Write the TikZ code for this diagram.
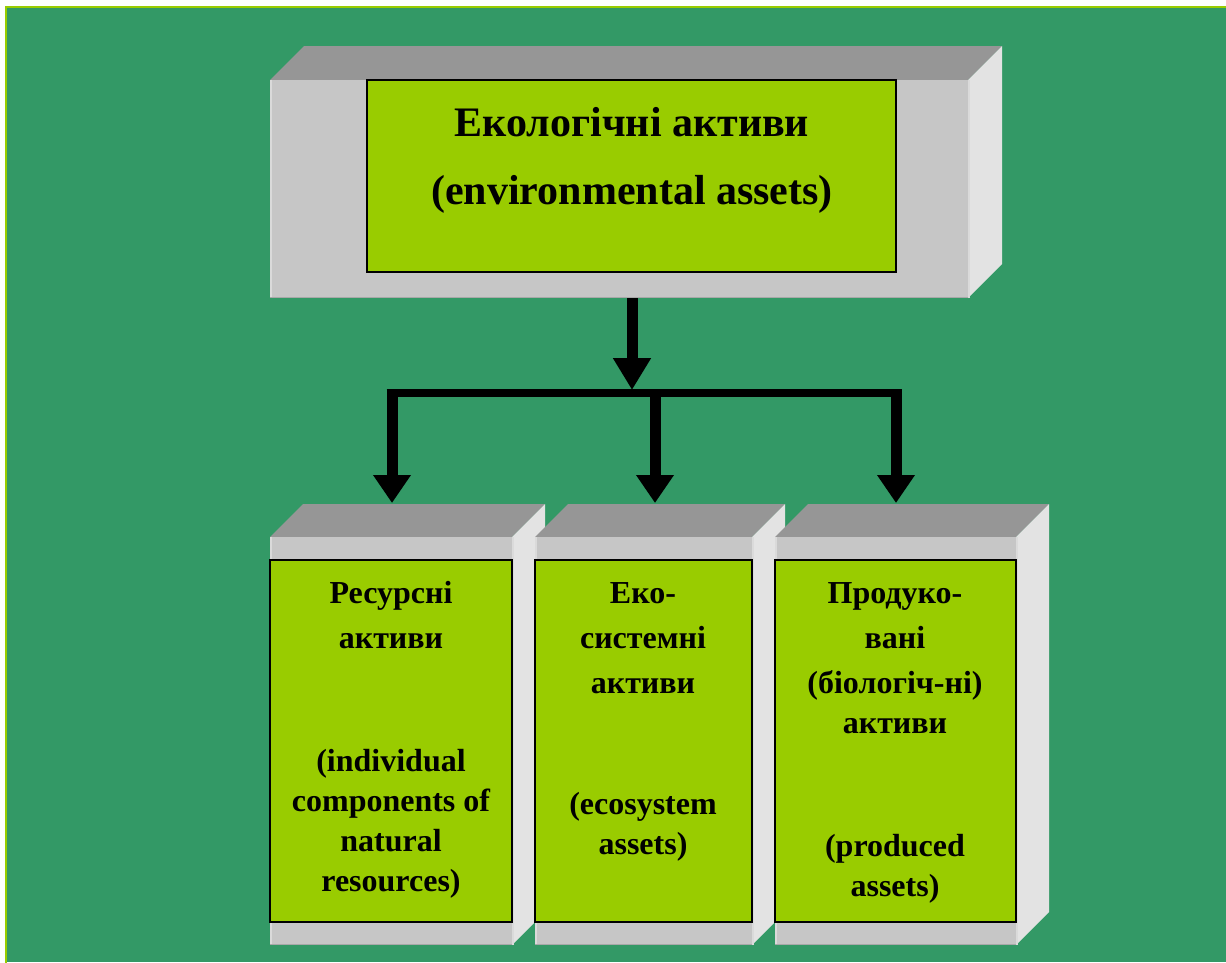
\documentclass[tikz,border=0pt]{standalone}
\usepackage{fontspec}
\setmainfont{Liberation Serif}
\usetikzlibrary{arrows.meta}
\definecolor{bg}{HTML}{339966}
\definecolor{lime}{HTML}{99CC00}
\definecolor{gtop}{HTML}{969696}
\definecolor{gfront}{HTML}{C6C6C6}
\definecolor{gside}{HTML}{E3E3E3}
\definecolor{gedge}{HTML}{A8A8A8}
\definecolor{glight}{HTML}{DADADA}
\newcommand\slabfaces[5]{%
  \fill[gtop] (#1,#2) -- (#1+#5,#2-#5) -- (#3+#5,#2-#5) -- (#3,#2) -- cycle;
  \fill[gside] (#3,#2) -- (#3+#5,#2-#5) -- (#3+#5,#4-#5) -- (#3,#4) -- cycle;
  \draw[glight,line width=1.5] (#3+0.75,#2) -- (#3+0.75,#4);
}
\begin{document}
\begin{tikzpicture}[x=1pt,y=-1pt,
  front/.style={fill=gfront, inner sep=0pt, outer sep=0pt, anchor=north west},
  lbox/.style={draw=black, line width=1.3pt, fill=lime, inner sep=0pt, outer sep=0pt, anchor=north west},
  bigtxt/.style={font=\fontsize{42}{50}\selectfont\bfseries, anchor=base, inner sep=0pt},
  txt/.style={font=\fontsize{32}{40}\selectfont\bfseries, anchor=base, inner sep=0pt},
  stem/.style={line width=11pt, -{Triangle[width=36pt,length=28pt]}},
]
\useasboundingbox (0,0) rectangle (1226,962);
\fill[white] (0,0) rectangle (1226,962);
\fill[bg] (6,7) rectangle (1226,962);
\draw[lime, line width=2pt] (6,970) -- (6,7) -- (1230,7);

% top box
\slabfaces{270}{80}{968}{298}{34}
\node[front, minimum width=698pt, minimum height=218pt] (topbox) at (270,80) {};
\draw[glight,line width=1.5] (270.75,80) -- (270.75,298);
\draw[gedge,line width=1.5] (270,297.25) -- (968,297.25);
\node[lbox, minimum width=529pt, minimum height=192pt] (top) at (367,80) {};
\node[bigtxt] (t1) at (632,136) {Екологічні активи};
\node[bigtxt] (t2) at (632,204) {(environmental assets)};

% bottom box 1
\slabfaces{270}{537}{512}{945}{33}
\node[front, minimum width=242pt, minimum height=408pt] (box1) at (270,537) {};
\draw[glight,line width=1.5] (270.75,537) -- (270.75,945);
\draw[gedge,line width=1.5] (270,944.25) -- (512,944.25);
\node[lbox, minimum width=242pt, minimum height=362pt] (g1) at (270,560) {};
% bottom box 2
\slabfaces{535}{537}{752}{945}{33}
\node[front, minimum width=217pt, minimum height=408pt] (box2) at (535,537) {};
\draw[glight,line width=1.5] (535.75,537) -- (535.75,945);
\draw[gedge,line width=1.5] (535,944.25) -- (752,944.25);
\node[lbox, minimum width=217pt, minimum height=362pt] (g2) at (535,560) {};
% bottom box 3
\slabfaces{775}{537}{1016}{945}{33}
\node[front, minimum width=241pt, minimum height=408pt] (box3) at (775,537) {};
\draw[glight,line width=1.5] (775.75,537) -- (775.75,945);
\draw[gedge,line width=1.5] (775,944.25) -- (1016,944.25);
\node[lbox, minimum width=241pt, minimum height=362pt] (g3) at (775,560) {};

% texts box 1
\node[txt] (a1) at (391,603) {Ресурсні};
\node[txt] (a2) at (391,648) {активи};
\node[txt] (a3) at (391,771) {(individual};
\node[txt] (a4) at (391,811) {components of};
\node[txt] (a5) at (391,851) {natural};
\node[txt] (a6) at (391,891) {resources)};
% texts box 2
\node[txt] (b1) at (643,603) {Еко-};
\node[txt] (b2) at (643,648) {системні};
\node[txt] (b3) at (643,693) {активи};
\node[txt] (b4) at (643,814) {(ecosystem};
\node[txt] (b5) at (643,854) {assets)};
% texts box 3
\node[txt] (c1) at (895,603) {Продуко-};
\node[txt] (c2) at (895,648) {вані};
\node[txt] (c3) at (895,693) {(біологіч-ні)};
\node[txt] (c4) at (895,733) {активи};
\node[txt] (c5) at (895,856) {(produced};
\node[txt] (c6) at (895,896) {assets)};

% connectors
\coordinate (s0) at (632,298);
\coordinate (j0) at (632,390);
\coordinate (jl) at (392,393);
\coordinate (jm) at (655,393);
\coordinate (jr) at (896,393);
\coordinate (e1) at (392,503);
\coordinate (e2) at (655,503);
\coordinate (e3) at (896,503);
\draw[line width=8pt] ([xshift=-5.5pt]jl) -- ([xshift=6pt]jr);
\draw[stem, -{Triangle[width=36pt,length=32pt]}] (s0) -- (j0);
\draw[stem] ([yshift=-4pt]jl) -- (e1);
\draw[stem] ([yshift=-4pt]jm) -- (e2);
\draw[stem] ([yshift=-4pt]jr) -- (e3);
\end{tikzpicture}
\end{document}
